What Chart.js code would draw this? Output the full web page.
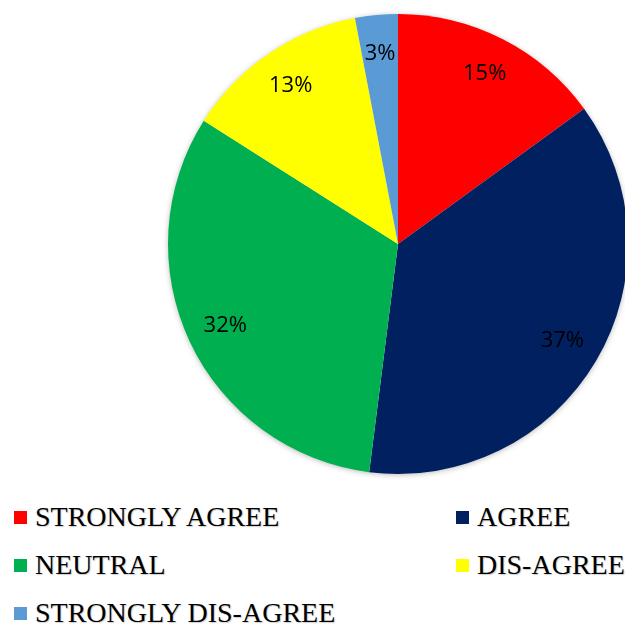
<!DOCTYPE html>
<html>
<head>
<meta charset="utf-8">
<script src="https://cdn.jsdelivr.net/npm/chart.js@4.4.1/dist/chart.umd.min.js"></script>
<style>
  html, body { margin: 0; padding: 0; background: #fff; overflow: hidden; }
  body { width: 625px; height: 626px; position: relative; }
  #pieBox { position: absolute; left: 0; top: 0; width: 640px; height: 490px; }
  #legend {
    position: absolute; left: 14px; top: 493px; width: 611px;
    display: grid; grid-template-columns: 442px auto; grid-auto-rows: 48px;
    color: #000; line-height: 48px;
  }
  #legend .item { display: flex; align-items: center; white-space: nowrap;
    font: 28px "Liberation Serif", "Times New Roman", serif;
    text-shadow: 1px 1px 1px rgba(0,0,0,0.2); }
  #legend .box { width: 13px; height: 13px; margin-right: 8px; flex: none; }
</style>
</head>
<body>
<div id="pieBox"><canvas id="pie" width="640" height="490"></canvas></div>
<div id="legend"></div>
<script>
const categories = ['STRONGLY AGREE', 'AGREE', 'NEUTRAL', 'DIS-AGREE', 'STRONGLY DIS-AGREE'];
const percents = [15, 37, 32, 13, 3];
const sliceColors = ['#ff0000', '#002060', '#00b050', '#ffff00', '#5b9bd5'];

// soft shadow under the whole pie, then percentage labels on top of the slices
const pieDecor = {
  id: 'pieDecor',
  beforeDatasetsDraw(chart) {
    const arc = chart.getDatasetMeta(0).data[0];
    if (!arc) return;
    const ctx = chart.ctx;
    ctx.save();
    ctx.shadowColor = 'rgba(0,0,0,0.35)';
    ctx.shadowBlur = 6;
    ctx.shadowOffsetX = 0;
    ctx.shadowOffsetY = 1;
    ctx.fillStyle = '#fff';
    ctx.beginPath();
    ctx.arc(arc.x, arc.y, arc.outerRadius - 1, 0, Math.PI * 2);
    ctx.fill();
    ctx.restore();
  },
  afterDatasetsDraw(chart) {
    const ctx = chart.ctx;
    ctx.save();
    ctx.font = '22px "Open Sans", "Noto Sans", sans-serif';
    ctx.fillStyle = '#000';
    ctx.textAlign = 'center';
    ctx.textBaseline = 'middle';
    chart.getDatasetMeta(0).data.forEach((arc, i) => {
      const mid = (arc.startAngle + arc.endAngle) / 2;
      const r = arc.outerRadius * 0.83;
      ctx.fillText(percents[i] + '%', arc.x + Math.cos(mid) * r, arc.y + Math.sin(mid) * r);
    });
    ctx.restore();
  }
};

new Chart(document.getElementById('pie'), {
  type: 'pie',
  data: {
    labels: categories,
    datasets: [{
      data: percents,
      backgroundColor: sliceColors,
      borderWidth: 0
    }]
  },
  options: {
    responsive: false,
    animation: false,
    layout: { padding: { left: 168, right: 12, top: 14, bottom: 16 } },
    plugins: {
      legend: { display: false },
      tooltip: { enabled: false }
    }
  },
  plugins: [pieDecor]
});

// two-column legend under the pie
const legend = document.getElementById('legend');
categories.forEach((name, i) => {
  const item = document.createElement('div');
  item.className = 'item';
  const box = document.createElement('span');
  box.className = 'box';
  box.style.background = sliceColors[i];
  item.appendChild(box);
  item.appendChild(document.createTextNode(name));
  legend.appendChild(item);
});
</script>
</body>
</html>
